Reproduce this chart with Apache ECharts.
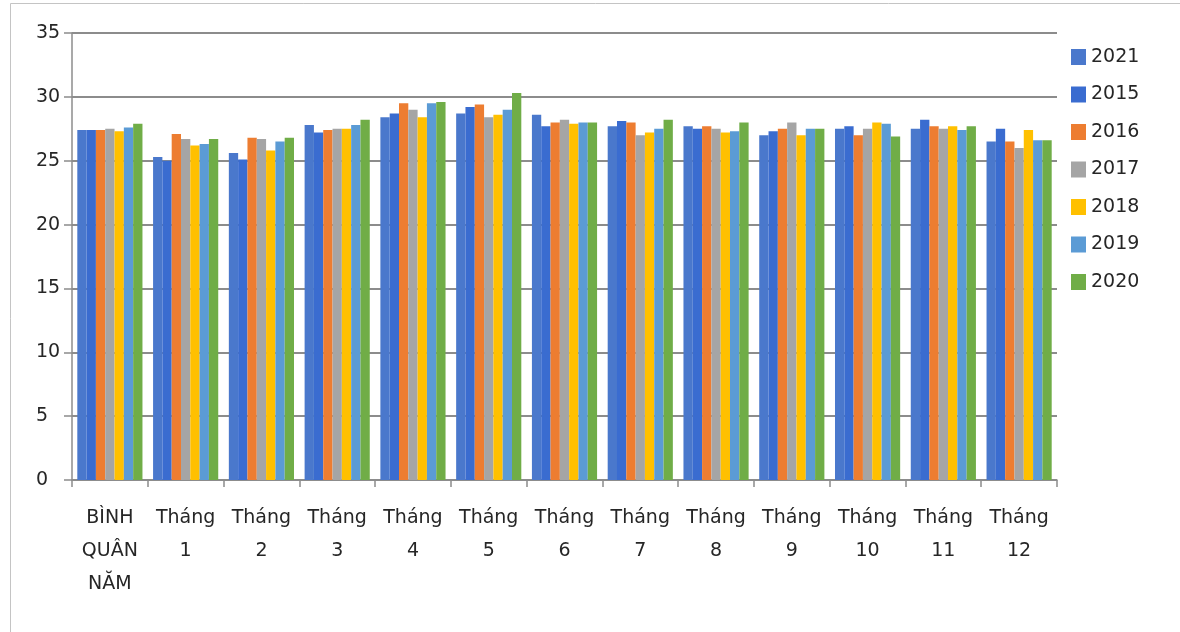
<!DOCTYPE html>
<html>
<head>
<meta charset="utf-8">
<script src="https://cdn.jsdelivr.net/npm/echarts@6/dist/echarts.min.js"></script>
<style>
  html, body { margin: 0; padding: 0; background: #ffffff; }
  #chart { width: 1180px; height: 632px; }
</style>
</head>
<body>
<div id="chart"></div>
<script>
// Categories on the x axis
const categories = ['BÌNH\nQUÂN\nNĂM', 'Tháng\n1', 'Tháng\n2', 'Tháng\n3', 'Tháng\n4', 'Tháng\n5',
  'Tháng\n6', 'Tháng\n7', 'Tháng\n8', 'Tháng\n9', 'Tháng\n10', 'Tháng\n11', 'Tháng\n12'];

// Series names (legend order)
const years = ['2021', '2015', '2016', '2017', '2018', '2019', '2020'];

// Values per year
const v2021 = [27.4, 25.3, 25.6, 27.8, 28.4, 28.7, 28.6, 27.7, 27.7, 27.0, 27.5, 27.5, 26.5];
const v2015 = [27.4, 25.0, 25.1, 27.2, 28.7, 29.2, 27.7, 28.1, 27.5, 27.3, 27.7, 28.2, 27.5];
const v2016 = [27.4, 27.1, 26.8, 27.4, 29.5, 29.4, 28.0, 28.0, 27.7, 27.5, 27.0, 27.7, 26.5];
const v2017 = [27.5, 26.7, 26.7, 27.5, 29.0, 28.4, 28.2, 27.0, 27.5, 28.0, 27.5, 27.5, 26.0];
const v2018 = [27.3, 26.2, 25.8, 27.5, 28.4, 28.6, 27.9, 27.2, 27.2, 27.0, 28.0, 27.7, 27.4];
const v2019 = [27.6, 26.3, 26.5, 27.8, 29.5, 29.0, 28.0, 27.5, 27.3, 27.5, 27.9, 27.4, 26.6];
const v2020 = [27.9, 26.7, 26.8, 28.2, 29.6, 30.3, 28.0, 28.2, 28.0, 27.5, 26.9, 27.7, 26.6];

// Y axis ticks
const yMin = 0, yMax = 35, yStep = 5;

const seriesValues = [v2021, v2015, v2016, v2017, v2018, v2019, v2020];
const colors = ['#4a78cc', '#3a6cd0', '#ed7d31', '#a5a5a5', '#ffc000', '#5b9bd5', '#70ad47'];

const fontFamily = '"DejaVu Sans", "Noto Sans", sans-serif';
const textColor = '#262626';

const chart = echarts.init(document.getElementById('chart'), null, { renderer: 'canvas' });

chart.setOption({
  animation: false,
  backgroundColor: '#ffffff',
  color: colors,
  graphic: [{
    type: 'rect',
    shape: { x: 10.5, y: 3.5, width: 1200, height: 700 },
    style: { fill: 'none', stroke: '#c4c4c4', lineWidth: 1 },
    silent: true
  }],
  grid: { left: 72, right: 123, top: 33, bottom: 152, containLabel: false },
  legend: {
    orient: 'vertical',
    left: 1071,
    top: 47,
    padding: 0,
    itemWidth: 15,
    itemHeight: 16,
    itemGap: 17.5,
    icon: 'rect',
    data: years,
    textStyle: { fontFamily, fontSize: 19, color: textColor, lineHeight: 20 }
  },
  xAxis: {
    type: 'category',
    data: categories,
    axisLine: { lineStyle: { color: '#8c8c8c', width: 1.5 } },
    axisTick: { show: true, length: 7, lineStyle: { color: '#8c8c8c', width: 1.5 } },
    axisLabel: {
      interval: 0,
      margin: 22,
      fontFamily,
      fontSize: 19,
      lineHeight: 33,
      color: textColor
    }
  },
  yAxis: {
    type: 'value',
    min: yMin,
    max: yMax,
    interval: yStep,
    axisLine: { show: true, lineStyle: { color: '#8c8c8c', width: 1.5 } },
    axisTick: { show: true, length: 8, lineStyle: { color: '#8c8c8c', width: 1.5 } },
    splitLine: { show: true, lineStyle: { color: '#8c8c8c', width: 2 } },
    axisLabel: {
      margin: 36,
      align: 'left',
      fontFamily,
      fontSize: 19,
      color: textColor
    }
  },
  series: years.map((name, i) => ({
    name,
    type: 'bar',
    data: seriesValues[i],
    barGap: '0%',
    barCategoryGap: '14%',
    itemStyle: { color: colors[i] }
  }))
});
</script>
</body>
</html>
